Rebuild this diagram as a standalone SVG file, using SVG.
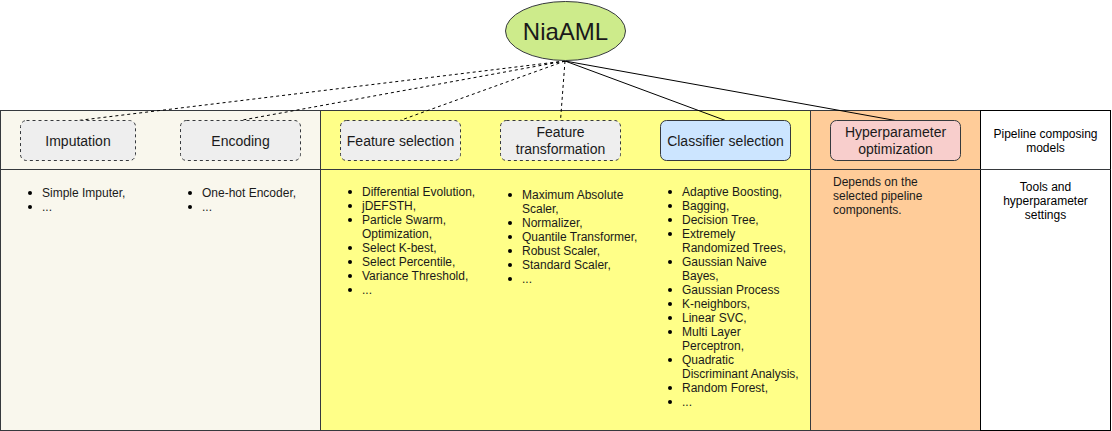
<svg xmlns="http://www.w3.org/2000/svg" width="1112" height="431" viewBox="0 0 1112 431">
<style>
text{font-family:"Liberation Sans",Arial,sans-serif;fill:#1a1a1a}
.h{font-size:14px;text-anchor:middle}
.l{font-size:12px}
.c{font-size:12px;text-anchor:middle;fill:#000}
.col{stroke:#36393d;stroke-width:1}
.box{stroke:#36393d;stroke-width:1}
.dash{stroke-dasharray:3 3}
.conn{stroke:#000;stroke-width:1;fill:none}
.b{fill:#000}
</style>
<rect width="1112" height="431" fill="#fff"/>
<g id="columns">
<rect class="col" x="0.5" y="110.5" width="320" height="320" fill="#f9f7ed"/>
<rect class="col" x="320.5" y="110.5" width="490" height="320" fill="#ffff88"/>
<rect class="col" x="810.5" y="110.5" width="170" height="320" fill="#ffcc99"/>
<rect x="980.5" y="110.5" width="130" height="320" fill="#fff" stroke="#000"/>
<line x1="0.5" y1="169.5" x2="1110.5" y2="169.5" stroke="#36393d"/>
</g>
<g id="connectors">
<line class="conn dash" x1="565" y1="61" x2="78" y2="120.5"/>
<line class="conn dash" x1="565" y1="61" x2="240" y2="120.5"/>
<line class="conn dash" x1="565" y1="61" x2="400" y2="120.5"/>
<line class="conn dash" x1="565" y1="61" x2="560.5" y2="120.5"/>
<line class="conn" x1="565" y1="61" x2="725.5" y2="120.5"/>
<line class="conn" x1="565" y1="61" x2="895.5" y2="120.5"/>
</g>
<g id="niaaml">
<ellipse cx="565.5" cy="31" rx="60" ry="29.5" fill="#cdeb8b" stroke="#36393d"/>
<text x="565.5" y="40" style="font-size:24px;text-anchor:middle">NiaAML</text>
</g>
<g id="imputation">
<rect class="box dash" x="20.5" y="120.5" width="115" height="40" rx="6" fill="#eeeeee"/>
<text class="h" x="78" y="146">Imputation</text>
</g>
<g id="encoding">
<rect class="box dash" x="180.5" y="120.5" width="120" height="40" rx="6" fill="#eeeeee"/>
<text class="h" x="240.5" y="146">Encoding</text>
</g>
<g id="feature-selection">
<rect class="box dash" x="340.5" y="120.5" width="120" height="40" rx="6" fill="#eeeeee"/>
<text class="h" x="400.5" y="146">Feature selection</text>
</g>
<g id="feature-transformation">
<rect class="box dash" x="500.5" y="120.5" width="120" height="40" rx="6" fill="#eeeeee"/>
<text class="h" x="560.5" y="137">Feature</text>
<text class="h" x="560.5" y="153.5">transformation</text>
</g>
<g id="classifier-selection">
<rect class="box" x="660.5" y="120.5" width="130" height="40" rx="6" fill="#cce5ff"/>
<text class="h" x="725.5" y="146">Classifier selection</text>
</g>
<g id="hyperparameter-optimization">
<rect class="box" x="830.5" y="120.5" width="130" height="40" rx="6" fill="#f8cecc"/>
<text class="h" x="895.5" y="137">Hyperparameter</text>
<text class="h" x="895.5" y="153.5">optimization</text>
</g>
<g id="pipeline-label">
<text class="c" x="1045.5" y="138">Pipeline composing</text>
<text class="c" x="1045.5" y="152">models</text>
</g>
<g id="tools-label">
<text class="c" x="1045.5" y="191">Tools and</text>
<text class="c" x="1045.5" y="205">hyperparameter</text>
<text class="c" x="1045.5" y="219">settings</text>
</g>
<g id="imputation-list">
<circle class="b" cx="30" cy="193" r="2"/><text class="l" x="42" y="197">Simple Imputer,</text>
<circle class="b" cx="30" cy="207" r="2"/><text class="l" x="42" y="211">...</text>
</g>
<g id="encoding-list">
<circle class="b" cx="190" cy="193" r="2"/><text class="l" x="202" y="197">One-hot Encoder,</text>
<circle class="b" cx="190" cy="207" r="2"/><text class="l" x="202" y="211">...</text>
</g>
<g id="feature-selection-list">
<circle class="b" cx="350" cy="192" r="2"/><text class="l" x="362" y="196">Differential Evolution,</text>
<circle class="b" cx="350" cy="206" r="2"/><text class="l" x="362" y="210">jDEFSTH,</text>
<circle class="b" cx="350" cy="220" r="2"/><text class="l" x="362" y="224">Particle Swarm,</text>
<text class="l" x="362" y="238">Optimization,</text>
<circle class="b" cx="350" cy="248" r="2"/><text class="l" x="362" y="252">Select K-best,</text>
<circle class="b" cx="350" cy="262" r="2"/><text class="l" x="362" y="266">Select Percentile,</text>
<circle class="b" cx="350" cy="276" r="2"/><text class="l" x="362" y="280">Variance Threshold,</text>
<circle class="b" cx="350" cy="290" r="2"/><text class="l" x="362" y="294">...</text>
</g>
<g id="feature-transformation-list">
<circle class="b" cx="510" cy="195" r="2"/><text class="l" x="522" y="199">Maximum Absolute</text>
<text class="l" x="522" y="213">Scaler,</text>
<circle class="b" cx="510" cy="223" r="2"/><text class="l" x="522" y="227">Normalizer,</text>
<circle class="b" cx="510" cy="237" r="2"/><text class="l" x="522" y="241">Quantile Transformer,</text>
<circle class="b" cx="510" cy="251" r="2"/><text class="l" x="522" y="255">Robust Scaler,</text>
<circle class="b" cx="510" cy="265" r="2"/><text class="l" x="522" y="269">Standard Scaler,</text>
<circle class="b" cx="510" cy="279" r="2"/><text class="l" x="522" y="283">...</text>
</g>
<g id="classifier-list">
<circle class="b" cx="670" cy="192" r="2"/><text class="l" x="682" y="196">Adaptive Boosting,</text>
<circle class="b" cx="670" cy="206" r="2"/><text class="l" x="682" y="210">Bagging,</text>
<circle class="b" cx="670" cy="220" r="2"/><text class="l" x="682" y="224">Decision Tree,</text>
<circle class="b" cx="670" cy="234" r="2"/><text class="l" x="682" y="238">Extremely</text>
<text class="l" x="682" y="252">Randomized Trees,</text>
<circle class="b" cx="670" cy="262" r="2"/><text class="l" x="682" y="266">Gaussian Naive</text>
<text class="l" x="682" y="280">Bayes,</text>
<circle class="b" cx="670" cy="290" r="2"/><text class="l" x="682" y="294">Gaussian Process</text>
<circle class="b" cx="670" cy="304" r="2"/><text class="l" x="682" y="308">K-neighbors,</text>
<circle class="b" cx="670" cy="318" r="2"/><text class="l" x="682" y="322">Linear SVC,</text>
<circle class="b" cx="670" cy="332" r="2"/><text class="l" x="682" y="336">Multi Layer</text>
<text class="l" x="682" y="350">Perceptron,</text>
<circle class="b" cx="670" cy="360" r="2"/><text class="l" x="682" y="364">Quadratic</text>
<text class="l" x="682" y="378">Discriminant Analysis,</text>
<circle class="b" cx="670" cy="388" r="2"/><text class="l" x="682" y="392">Random Forest,</text>
<circle class="b" cx="670" cy="402" r="2"/><text class="l" x="682" y="406">...</text>
</g>
<g id="hyperparameter-text">
<text class="l" x="833" y="186">Depends on the</text>
<text class="l" x="833" y="200">selected pipeline</text>
<text class="l" x="833" y="214">components.</text>
</g>
</svg>
